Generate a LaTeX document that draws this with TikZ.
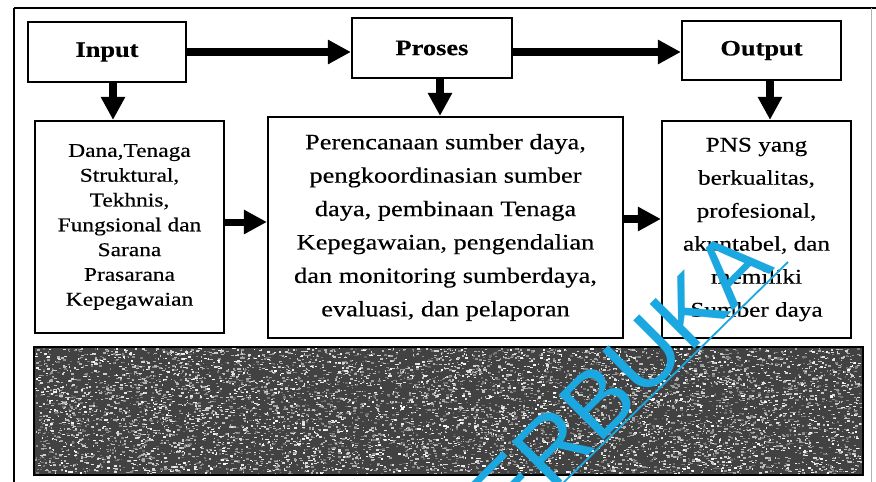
\documentclass[tikz,border=0pt]{standalone}
\usepackage{fontspec}
\setmainfont{Liberation Serif}[FakeStretch=1.2, FakeBold=0.4]
\newfontfamily\wmfont{Liberation Sans}
\usetikzlibrary{arrows.meta}
\definecolor{wmcyan}{RGB}{27,168,224}
\begin{document}
\begin{tikzpicture}[x=1pt,y=-1pt,
  box/.style={draw, line width=2.2pt, inner sep=0pt, align=center},
  headtext/.style={font=\fontsize{22}{26}\selectfont\bfseries},
  heavy/.style={line width=8pt, -{Triangle[length=23pt,width=23pt]}},
  wm/.style={text=wmcyan, font=\wmfont\fontsize{92}{92}\selectfont, inner sep=0pt}]
\useasboundingbox (0,0) rectangle (876,482);
\clip (0,0) rectangle (876,482);
\fill[white] (0,0) rectangle (876,482);

% outer frame
\draw[line width=2.6pt] (14,492) -- (14,8);
\draw[line width=1.8pt] (14,8) -- (876,8);
\draw[gray!60, line width=1pt] (871,8) -- (871,492);

% top row
\node[box, headtext, minimum width=158pt, minimum height=60pt] (Input) at (107,52) {Input};
\node[box, headtext, minimum width=160pt, minimum height=60pt] (Proses) at (432,48) {Proses};
\node[box, headtext, minimum width=159pt, minimum height=59pt] (Output) at (761.5,50.5) {Output};

% detail boxes
\node[box, minimum width=189pt, minimum height=212pt,
      font=\fontsize{19.5}{24.8}\selectfont] (Rin) at (129.5,227)
  {Dana,Tenaga\\Struktural,\\Tekhnis,\\Fungsional dan\\Sarana\\Prasarana\\Kepegawaian};
\node[box, minimum width=355pt, minimum height=221pt,
      font=\fontsize{22}{33.4}\selectfont] (Rpro) at (445.5,227.5)
  {Perencanaan sumber daya,\\pengkoordinasian sumber\\daya, pembinaan Tenaga\\Kepegawaian, pengendalian\\dan monitoring sumberdaya,\\evaluasi, dan pelaporan};
\node[box, minimum width=189pt, minimum height=217pt,
      font=\fontsize{21}{33}\selectfont] (Rout) at (756.5,229.5)
  {PNS yang\\berkualitas,\\profesional,\\akuntabel, dan\\memiliki\\Sumber daya};

% connectors
\draw[heavy] (Input.east) -- (Input.east -| Proses.west);
\draw[heavy] (Proses.east |- Input.east) -- (Output.west |- Input.east);
\draw[heavy] ([xshift=6pt]Input.south) -- ([xshift=6pt]Input.south |- Rin.north);
\draw[heavy] ([xshift=8pt]Proses.south) -- ([xshift=8pt]Proses.south |- Rpro.north);
\draw[heavy] ([xshift=8.5pt]Output.south) -- ([xshift=8.5pt]Output.south |- Rout.north);
\draw[heavy, line width=7pt] ([yshift=5pt]Rin.east) -- ([yshift=5pt]Rin.east -| Rpro.west);
\draw[heavy] ([yshift=8.5pt]Rpro.east) -- ([yshift=8.5pt]Rpro.east -| Rout.west);

% grainy dark band
\fill[black!74] (34,347) rectangle (863,475);
\pgfmathsetseed{11}
\foreach \k in {1,...,8000}{%
  \pgfmathsetmacro{\px}{35+825*rnd}%
  \pgfmathsetmacro{\py}{348+125*rnd}%
  \pgfmathsetmacro{\pw}{1+2.4*rnd}%
  \pgfmathtruncatemacro{\pg}{40+60*rnd}%
  \fill[white!\pg!black] (\px,\py) rectangle ++(\pw,1.4);
}
\draw[line width=1.6pt] (34,347) rectangle (863,475);

% watermark
\node[wm, rotate=45, anchor=base east] (wmark) at (776,268) {ERBUKA};
\coordinate (wl1) at (560,486);
\coordinate (wl2) at (788,262);
\draw[wmcyan, line width=1.8pt] (wl1) -- (wl2);
\end{tikzpicture}
\end{document}
